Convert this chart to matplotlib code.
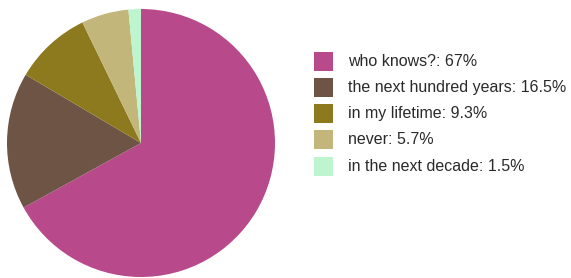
import matplotlib.pyplot as plt
from matplotlib.patches import Rectangle

labels = ['who knows?', 'the next hundred years', 'in my lifetime', 'never', 'in the next decade']
values = [67, 16.5, 9.3, 5.7, 1.5]
colors = ['#b84a8c', '#6e5444', '#8e7a1e', '#c2b67a', '#bdf5cf']

plt.rcParams['font.family'] = ['Liberation Sans', 'DejaVu Sans']

fig = plt.figure(figsize=(5.71, 2.78), dpi=100)

# pie on the left, centre ~ (141, 143) px, radius ~134 px
ax = fig.add_axes([(141 - 134) / 571, (278 - 143 - 134) / 278, 268 / 571, 268 / 278])
ax.pie(values, colors=colors, startangle=90, counterclock=False,
       wedgeprops=dict(linewidth=0))
ax.set_xlim(-1, 1)
ax.set_ylim(-1, 1)
ax.set_aspect('equal')

# legend drawn by hand
lax = fig.add_axes([0, 0, 1, 1])
lax.set_xlim(0, 571)
lax.set_ylim(278, 0)
lax.axis('off')
for i, (lab, v) in enumerate(zip(labels, values)):
    y = 61 + i * 26.3
    lax.add_patch(Rectangle((314, y - 9.5), 19, 19, color=colors[i], lw=0))
    txt = f'{lab}: {v:g}%'
    lax.text(348, y, txt, va='center', ha='left', fontsize=11.5, color='#2a2a2a')

fig.savefig('out.png', dpi=100)
